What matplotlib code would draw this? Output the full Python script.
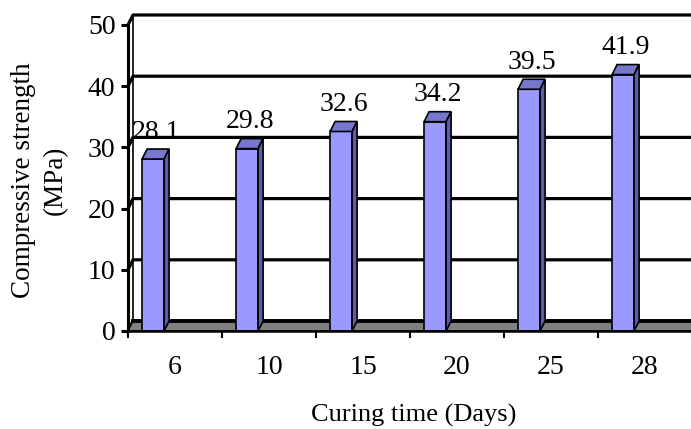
import matplotlib
matplotlib.use("Agg")
import matplotlib.pyplot as plt

# Curing time categories and compressive strength (MPa)
days = ['6', '10', '15', '20', '25', '28']
strength = [28.1, 29.8, 32.6, 34.2, 39.5, 41.9]
yticks = [0, 10, 20, 30, 40, 50]

plt.rcParams['font.family'] = ['Liberation Serif', 'DejaVu Serif']

W, H = 691, 429
fig = plt.figure(figsize=(W / 100, H / 100), dpi=100)

# front plane of the plot box in pixels
x0, x1 = 128, 692
y0, y1 = 331, 25
ax = fig.add_axes([x0 / W, (H - y0) / H, (x1 - x0) / W, (y0 - y1) / H])
n = len(days)
ax.set_xlim(0, n)
ax.set_ylim(0, 50)

# depth offset of the 3D box (data units)
dx = 5 / ((x1 - x0) / n)
dy = 10 / ((y0 - y1) / 50)

for s in ax.spines.values():
    s.set_visible(False)

# back wall grid lines and left-wall diagonals
for v in yticks:
    ax.plot([0, dx, n + dx], [v, v + dy, v + dy], color='black', lw=2.3,
            clip_on=False, zorder=2, solid_capstyle='butt')
ax.plot([dx, dx], [dy, 50 + dy], color='black', lw=1.2, clip_on=False, zorder=2)

# floor
ax.fill([0, n, n + dx, dx], [0, 0, dy, dy], facecolor='#808080',
        edgecolor='black', lw=1.0, clip_on=False, zorder=3)
ax.plot([dx, n + dx], [dy, dy], color='black', lw=2.8, clip_on=False, zorder=3)

# bars
bw = 0.234
off = 0.15
for i, v in enumerate(strength):
    l = i + off
    r = l + bw
    ax.fill([l, r, r, l], [0, 0, v, v], facecolor='#9999FF',
            edgecolor='black', lw=1.2, clip_on=False, zorder=5)
    ax.fill([l, r, r + dx, l + dx], [v, v, v + dy, v + dy], facecolor='#7777CC',
            edgecolor='black', lw=1.2, clip_on=False, zorder=5)
    ax.fill([r, r + dx, r + dx, r], [0, dy, v + dy, v], facecolor='#5D5DAA',
            edgecolor='black', lw=1.2, clip_on=False, zorder=5)
    ax.text(l + bw / 2 + 0.03, v + 4.4, '%.1f' % v, ha='center', va='center',
            fontsize=20, zorder=1)

# front axes lines
ax.plot([0, 0], [0, 50], color='black', lw=2.2, clip_on=False, zorder=6)
ax.plot([0, n], [0, 0], color='black', lw=1.8, clip_on=False, zorder=6)

ax.set_yticks(yticks)
ax.set_yticklabels([str(t) for t in yticks])
ax.tick_params(axis='y', length=5, width=2.2, pad=4, labelsize=20, direction='out')

ax.set_xticks(range(n + 1))
ax.set_xticklabels([])
ax.set_xticks([i + 0.5 for i in range(n)], minor=True)
ax.set_xticklabels(days, minor=True)
ax.tick_params(axis='x', which='major', length=5, width=1.5, direction='out')
ax.tick_params(axis='x', which='minor', length=0, pad=17, labelsize=20)

# axis titles
fig.text(414 / W, 1 - 422 / H, 'Curing time (Days)', ha='center',
         va='baseline', fontsize=19)
fig.text(30 / W, 1 - 180 / H, 'Compressive strength', ha='center',
         va='baseline', rotation=90, rotation_mode='anchor', fontsize=19.5)
fig.text(62 / W, 1 - 180 / H, '(MPa)', ha='center',
         va='baseline', rotation=90, rotation_mode='anchor', fontsize=19.5)

fig.savefig('out.png', dpi=100)
